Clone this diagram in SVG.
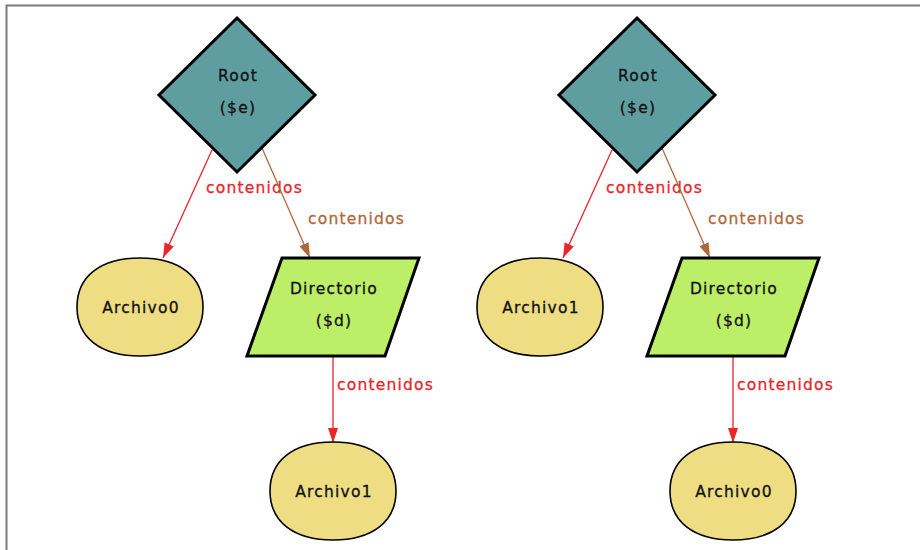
<svg xmlns="http://www.w3.org/2000/svg" xmlns:xlink="http://www.w3.org/1999/xlink" width="920" height="550" viewBox="0 0 920 550">
  <style>
    text { font-family: "DejaVu Sans", "Liberation Sans", sans-serif; font-size: 15.5px; letter-spacing: 1.2px; stroke-width: 0.3px; }
    .nlabel { fill: #111; stroke: #111; text-anchor: middle; }
    .elabel-red { fill: #e8262b; stroke: #e8262b; }
    .elabel-brown { fill: #b0683a; stroke: #b0683a; }
    .edge-red { stroke: #e8262b; stroke-width: 1.3; fill: none; marker-end: url(#arrow-red); }
    .edge-brown { stroke: #b0683a; stroke-width: 1.3; fill: none; marker-end: url(#arrow-brown); }
    .root { fill: #5f9ea0; stroke: #000; stroke-width: 3; stroke-linejoin: miter; }
    .dir { fill: #bcee68; stroke: #000; stroke-width: 3; }
    .file { fill: #eedd82; stroke: #000; stroke-width: 1.6; }
    .frame { stroke: #7a7a7a; stroke-width: 2; fill: none; }
  </style>
  <defs>
    <marker id="arrow-red" markerUnits="userSpaceOnUse" markerWidth="16" markerHeight="12" refX="15" refY="5" orient="auto">
      <path d="M0,0 L15,5 L0,10 Z" fill="#e8262b"/>
    </marker>
    <marker id="arrow-brown" markerUnits="userSpaceOnUse" markerWidth="16" markerHeight="12" refX="15" refY="5" orient="auto">
      <path d="M0,0 L15,5 L0,10 Z" fill="#b0683a"/>
    </marker>
    <!-- rounded blob used for file nodes, centred on 0,0 -->
    <path id="blob" d="M-63,0 C-63,-31 -39,-49 0,-49 C39,-49 63,-31 63,0 C63,31 39,49 0,49 C-39,49 -63,31 -63,0 Z"/>
  </defs>

  <rect x="0" y="0" width="920" height="550" fill="#fff"/>
  <path class="frame" d="M6.5,550 V5.5 H920"/>

  <g id="connectors">
    <!-- left tree -->
    <line class="edge-red" x1="212" y1="150" x2="163" y2="258"/>
    <text class="elabel-red" x="206" y="193">contenidos</text>
    <line class="edge-brown" x1="262" y1="148" x2="310" y2="258"/>
    <text class="elabel-brown" x="308" y="224">contenidos</text>
    <line class="edge-red" x1="333" y1="356" x2="333" y2="443"/>
    <text class="elabel-red" x="337" y="390">contenidos</text>
    <!-- right tree -->
    <line class="edge-red" x1="612" y1="150" x2="563" y2="258"/>
    <text class="elabel-red" x="606" y="193">contenidos</text>
    <line class="edge-brown" x1="662" y1="148" x2="710" y2="258"/>
    <text class="elabel-brown" x="708" y="224">contenidos</text>
    <line class="edge-red" x1="733" y1="356" x2="733" y2="443"/>
    <text class="elabel-red" x="737" y="390">contenidos</text>
  </g>

  <!-- left tree nodes -->
  <g id="root-left">
    <polygon class="root" points="237,18 315,95 237,172 159,95"/>
    <text class="nlabel" x="238" y="81">Root</text>
    <text class="nlabel" x="238" y="113">($e)</text>
  </g>
  <g id="archivo0-left">
    <use xlink:href="#blob" class="file" transform="translate(140,307)"/>
    <text class="nlabel" x="141" y="313">Archivo0</text>
  </g>
  <g id="directorio-left">
    <polygon class="dir" points="282,258 419,258 385,356 247,356"/>
    <text class="nlabel" x="334" y="294">Directorio</text>
    <text class="nlabel" x="334" y="326">($d)</text>
  </g>
  <g id="archivo1-left">
    <use xlink:href="#blob" class="file" transform="translate(333,491)"/>
    <text class="nlabel" x="334" y="497">Archivo1</text>
  </g>

  <!-- right tree nodes -->
  <g id="root-right">
    <polygon class="root" points="637,18 715,95 637,172 559,95"/>
    <text class="nlabel" x="638" y="81">Root</text>
    <text class="nlabel" x="638" y="113">($e)</text>
  </g>
  <g id="archivo1-right">
    <use xlink:href="#blob" class="file" transform="translate(540,307)"/>
    <text class="nlabel" x="541" y="313">Archivo1</text>
  </g>
  <g id="directorio-right">
    <polygon class="dir" points="682,258 819,258 785,356 647,356"/>
    <text class="nlabel" x="734" y="294">Directorio</text>
    <text class="nlabel" x="734" y="326">($d)</text>
  </g>
  <g id="archivo0-right">
    <use xlink:href="#blob" class="file" transform="translate(733,491)"/>
    <text class="nlabel" x="734" y="497">Archivo0</text>
  </g>
</svg>
